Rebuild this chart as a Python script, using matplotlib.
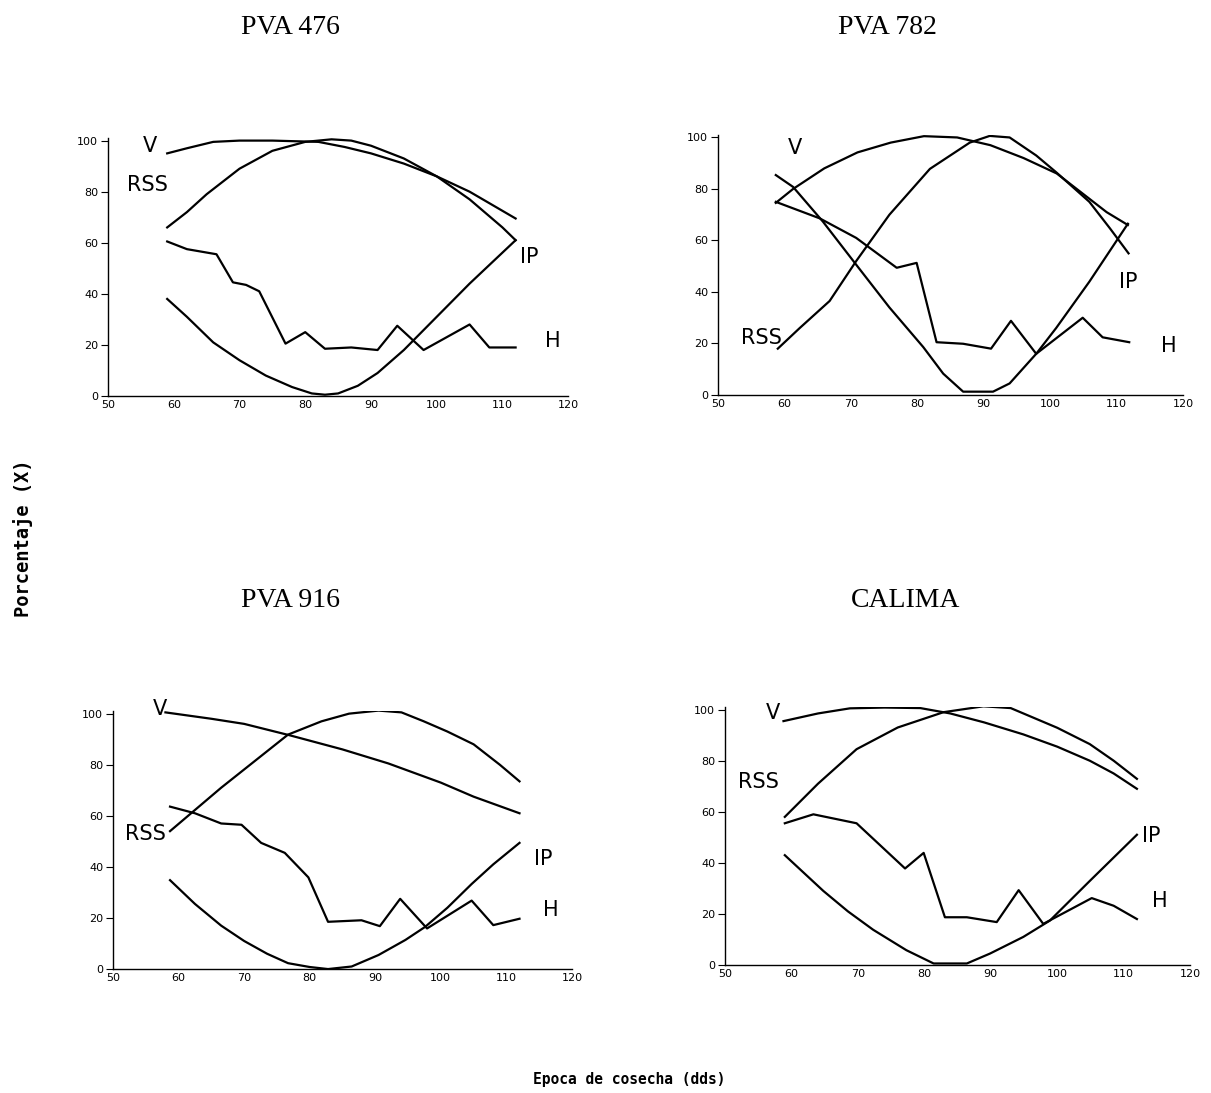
import matplotlib
matplotlib.use("Agg")
import matplotlib.pyplot as plt

# ---- PVA 476 ----
v1_x = [59, 62, 66, 70, 75, 82, 86, 90, 95, 100, 105, 112]
v1_y = [95, 97, 99.5, 100, 100, 99.5, 97.5, 95, 91, 86, 80, 69.5]
rss1_x = [59, 62, 65, 70, 75, 80, 84, 87, 90, 95, 100, 105, 110, 112]
rss1_y = [66, 72, 79, 89, 96, 99.5, 100.5, 100, 98, 93, 86, 77, 66, 61]
h1_x = [59, 62, 66.5, 69, 71, 73, 77, 80, 83, 87, 91, 94, 98, 105, 108, 112]
h1_y = [60.5, 57.5, 55.5, 44.5, 43.5, 41, 20.5, 25, 18.5, 19, 18, 27.5, 18, 28, 19, 19]
ip1_x = [59, 62, 66, 70, 74, 78, 81, 83, 85, 88, 91, 95, 100, 105, 112]
ip1_y = [38, 31, 21, 14, 8, 3.5, 1, 0.5, 1, 4, 9, 18, 31, 44, 61]

# ---- PVA 782 ----
v2_x = [58.7, 61.3, 66, 71, 76, 81, 86, 91, 96, 101, 104, 108.5, 111.7]
v2_y = [74.6, 80, 88, 94.2, 98, 100.5, 100, 97, 92, 86, 80, 71, 66]
rss2_x = [59, 62.3, 66.8, 70.8, 75.8, 81.9, 87.9, 90.9, 93.9, 97.9, 100.9, 105.9, 109, 111.8]
rss2_y = [18, 26, 36.5, 52, 70, 87.8, 98, 100.6, 100, 93, 86.5, 75, 64.7, 55]
h2_x = [58.7, 65.3, 70.8, 76.9, 79.9, 82.9, 86.9, 91.1, 94.1, 97.9, 104.9, 107.9, 111.9]
h2_y = [75, 68.6, 61, 49.4, 51.3, 20.5, 19.9, 18, 28.8, 16, 30, 22.4, 20.5]
ip2_x = [58.7, 61.3, 65.8, 70.8, 75.8, 80.9, 83.9, 86.9, 91.4, 93.9, 97.9, 100.9, 105.9, 111.7]
ip2_y = [85.4, 80.8, 67.3, 50.6, 34, 18.6, 8.3, 1.3, 1.3, 4.5, 16, 26, 44, 66.5]

# ---- PVA 916 ----
v3_x = [58, 65, 70, 77, 85, 92, 100, 105, 112]
v3_y = [100.5, 98, 96, 91.5, 86, 80.5, 73, 67.5, 61]
rss3_x = [58.7, 66.5, 76.7, 81.8, 86, 90.5, 94, 97.4, 101, 105, 109, 112]
rss3_y = [54, 71, 91.8, 97, 100, 101.2, 100.5, 97, 93, 88, 80, 73.5]
h3_x = [58.7, 62.5, 66.5, 69.6, 72.6, 76.2, 79.8, 82.8, 87.9, 90.7, 93.8, 97.9, 104.7, 108, 112]
h3_y = [63.6, 61, 57, 56.5, 49.4, 45.5, 35.9, 18.5, 19.1, 16.8, 27.5, 15.9, 26.8, 17.2, 19.7]
ip3_x = [58.7, 62.5, 66.5, 70, 73.5, 76.7, 80, 82.8, 86.4, 90.5, 94.6, 97.6, 101, 104.7, 108, 112]
ip3_y = [34.8, 25.5, 17, 11, 6, 2.3, 0.8, 0, 1, 5.5, 11.4, 16.5, 24, 33.3, 41, 49.4]

# ---- CALIMA ----
v4_x = [58.8, 64, 68.8, 74, 79.4, 83.9, 89, 94.9, 100, 104.9, 108.5, 112]
v4_y = [95.5, 98.5, 100.5, 100.8, 100.6, 98.5, 95, 90.3, 85.5, 80, 75, 69]
rss4_x = [59, 64, 69.8, 76, 82.9, 88.9, 93, 100, 104.9, 108.5, 112]
rss4_y = [58, 71, 84.5, 93, 99, 101.3, 100.6, 92.9, 86.5, 80, 72.9]
h4_x = [59, 63.3, 69.8, 77.1, 79.9, 83.1, 86.4, 90.9, 94.2, 97.9, 105.2, 108.5, 112]
h4_y = [55.5, 59, 55.5, 37.8, 43.9, 18.7, 18.7, 16.8, 29.3, 16.1, 26.2, 23.2, 18]
ip4_x = [59, 64.8, 68.5, 72.3, 77.3, 81.4, 86.4, 89.9, 94.9, 98.9, 104.9, 112]
ip4_y = [43, 29, 21, 13.8, 5.8, 0.6, 0.6, 4.5, 11, 17.4, 32.9, 51]

titles = ["PVA 476", "PVA 782", "PVA 916", "CALIMA"]
x_ticks = [50, 60, 70, 80, 90, 100, 110, 120]
y_ticks = [0, 20, 40, 60, 80, 100]
curve_names = ["V", "RSS", "IP", "H"]

panels = [
    [(v1_x, v1_y), (rss1_x, rss1_y), (ip1_x, ip1_y), (h1_x, h1_y)],
    [(v2_x, v2_y), (rss2_x, rss2_y), (ip2_x, ip2_y), (h2_x, h2_y)],
    [(v3_x, v3_y), (rss3_x, rss3_y), (ip3_x, ip3_y), (h3_x, h3_y)],
    [(v4_x, v4_y), (rss4_x, rss4_y), (ip4_x, ip4_y), (h4_x, h4_y)],
]

# label spots for V, RSS, IP, H in each panel (data coords)
label_pos = [
    [(56.4, 98), (56, 82.5), (114, 54.5), (117.6, 21.7)],
    [(61.6, 96), (56.5, 22), (111.8, 44), (117.8, 19)],
    [(57.2, 102), (55, 53), (115.6, 43), (116.8, 23)],
    [(57.2, 98.8), (55, 71.7), (114.2, 50.4), (115.5, 25.2)],
]

# axes rectangles [left, bottom, width, height] in figure fraction
boxes = [
    [0.0892, 0.6377, 0.380, 0.236],
    [0.5929, 0.6386, 0.384, 0.238],
    [0.0933, 0.1134, 0.379, 0.236],
    [0.5987, 0.1171, 0.384, 0.236],
]
# title centres in figure fraction
title_pos = [(0.2395, 0.975), (0.733, 0.975), (0.2395, 0.451), (0.748, 0.451)]

fig = plt.figure(figsize=(12.11, 10.93), dpi=100)

for i in range(4):
    ax = fig.add_axes(boxes[i])
    for (xs, ys) in panels[i]:
        ax.plot(xs, ys, color="black", lw=1.6)
    for name, (lx, ly) in zip(curve_names, label_pos[i]):
        ax.text(lx, ly, name, fontsize=15, ha="center", va="center",
                family="DejaVu Sans", clip_on=False)
    ax.set_xlim(50, 120)
    ax.set_ylim(0, 101)
    ax.set_xticks(x_ticks)
    ax.set_yticks(y_ticks)
    ax.tick_params(axis="x", length=0, pad=3, labelsize=8)
    ax.tick_params(axis="y", length=5, width=0.8, pad=2, labelsize=8)
    ax.spines["top"].set_visible(False)
    ax.spines["right"].set_visible(False)
    ax.spines["left"].set_linewidth(1.0)
    ax.spines["bottom"].set_linewidth(1.0)
    fig.text(title_pos[i][0], title_pos[i][1], titles[i], ha="center", va="center",
             fontsize=20, family="Liberation Serif")

fig.text(0.019, 0.508, "Porcentaje (X)", rotation=90, ha="center", va="center",
         fontsize=13.5, family="DejaVu Sans Mono", weight="bold")
fig.text(0.52, 0.012, "Epoca de cosecha (dds)", ha="center", va="center",
         fontsize=10.5, family="DejaVu Sans Mono", weight="bold")

fig.savefig("out.png", dpi=100, facecolor="white")
